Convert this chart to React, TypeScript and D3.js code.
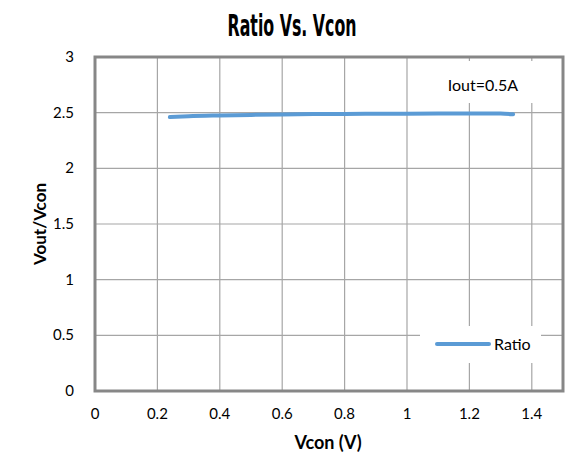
import * as d3 from "d3";

const vcon = [0.24, 0.3, 0.4, 0.5, 0.6, 0.7, 0.8, 0.9, 1.0, 1.1, 1.2, 1.3, 1.34];
const ratio = [2.46, 2.468, 2.475, 2.48, 2.484, 2.487, 2.489, 2.49, 2.491, 2.492, 2.493, 2.492, 2.485];
const xTicks = [0, 0.2, 0.4, 0.6, 0.8, 1, 1.2, 1.4];
const yTicks = [0, 0.5, 1, 1.5, 2, 2.5, 3];
const seriesName = "Ratio";
const note = "Iout=0.5A";

const W = 570;
const H = 457;
const margin = { top: 57, right: 7, bottom: 66, left: 95 };

export default function App() {
  const x = d3.scaleLinear().domain([0, 1.5]).range([margin.left, W - margin.right]);
  const y = d3.scaleLinear().domain([0, 3]).range([H - margin.bottom, margin.top]);
  const pts = vcon.map((v, i) => [v, ratio[i]] as [number, number]);
  const line = d3.line<[number, number]>().x((d) => x(d[0])).y((d) => y(d[1])).curve(d3.curveMonotoneX);
  const font = "Lato, 'Open Sans', sans-serif";

  return (
    <svg width={W} height={H} style={{ position: "absolute", left: 0, top: 0, background: "#fff" }}>
      <text x={292} y={36} textAnchor="middle" fontFamily="'DejaVu Sans Condensed', 'Liberation Sans Narrow', sans-serif"
        fontWeight="bold" fontSize={30} textLength={129} lengthAdjust="spacingAndGlyphs" fill="#000">
        Ratio Vs. Vcon
      </text>

      <rect x={x(0)} y={y(3)} width={x(1.5) - x(0)} height={y(0) - y(3)} fill="#fff" />

      {xTicks.filter((t) => t > 0).map((t) => (
        <line key={"gx" + t} x1={x(t)} x2={x(t)} y1={y(3)} y2={y(0)} stroke="#a6a6a6" strokeWidth={1.2} />
      ))}
      {yTicks.filter((t) => t > 0 && t < 3).map((t) => (
        <line key={"gy" + t} x1={x(0)} x2={x(1.5)} y1={y(t)} y2={y(t)} stroke="#a6a6a6" strokeWidth={1.2} />
      ))}

      <path d={line(pts) ?? ""} fill="none" stroke="#5b9bd5" strokeWidth={4} strokeLinecap="round" />

      {/* annotation box */}
      <rect x={432} y={61} width={106} height={42} fill="#fff" />
      <text x={483} y={91} textAnchor="middle" fontFamily={font} fontSize={16} fill="#000">{note}</text>

      {/* legend */}
      <rect x={420} y={326} width={121} height={37} fill="#fff" />
      <line x1={437} x2={489} y1={344} y2={344} stroke="#5b9bd5" strokeWidth={4} strokeLinecap="round" />
      <text x={494} y={350} fontFamily={font} fontSize={16} fill="#000">{seriesName}</text>

      <rect x={x(0)} y={y(3)} width={x(1.5) - x(0)} height={y(0) - y(3)} fill="none" stroke="#878787" strokeWidth={3} />

      {yTicks.map((t) => (
        <text key={"yt" + t} x={74} y={y(t) + 5} textAnchor="end" fontFamily={font} fontSize={15} fill="#000">{t}</text>
      ))}
      {xTicks.map((t) => (
        <text key={"xt" + t} x={x(t)} y={419} textAnchor="middle" fontFamily={font} fontSize={15} fill="#000">{t}</text>
      ))}

      <text x={328} y={449} textAnchor="middle" fontFamily={font} fontWeight="bold" fontSize={18} fill="#000">Vcon (V)</text>
      <text transform={`translate(46,${(y(0) + y(3)) / 2}) rotate(-90)`} textAnchor="middle" fontFamily={font}
        fontWeight="bold" fontSize={17} fill="#000">Vout/Vcon</text>
    </svg>
  );
}
